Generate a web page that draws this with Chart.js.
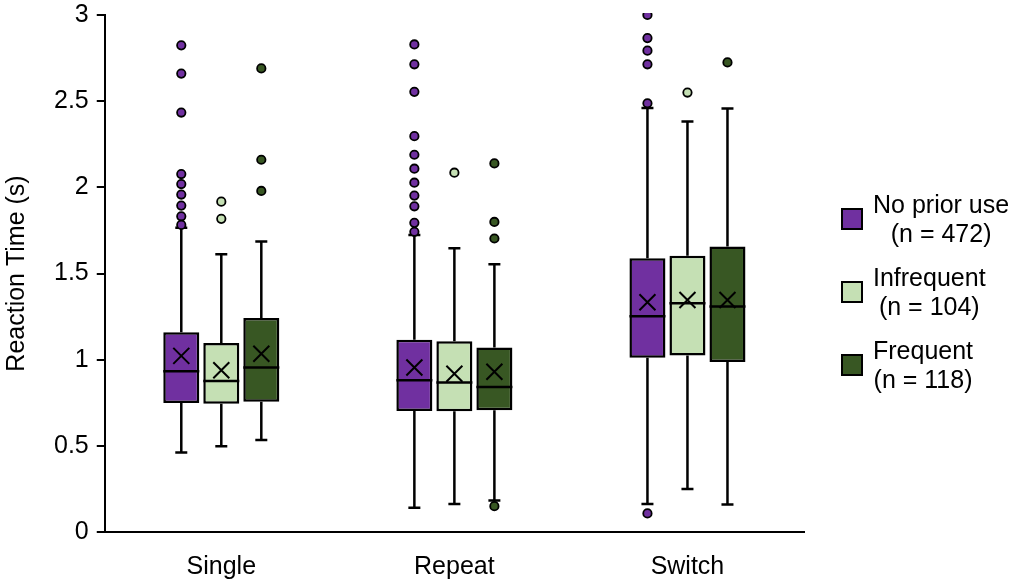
<!DOCTYPE html>
<html>
<head>
<meta charset="utf-8">
<script src="https://cdn.jsdelivr.net/npm/chart.js@4.4.1/dist/chart.umd.min.js"></script>
<style>
  body { margin: 0; background: #fff; font-family: 'Liberation Sans', Arial, sans-serif; }
  #wrap { position: relative; width: 1022px; height: 588px; }
  #legend { position: absolute; left: 841px; top: 190px; }
  .item { display: flex; align-items: center; margin-bottom: 15px; }
  .swatch { width: 18px; height: 18px; border: 2px solid #000; margin-right: 10px; }
  .label { font-size: 25px; line-height: 29px; text-align: center; color: #000; }
</style>
</head>
<body>
<div id="wrap">
  <canvas id="rtChart" width="1022" height="588"></canvas>
  <div id="legend"></div>
</div>
<script>
// groups on the x axis and the three user groups
const groups = ['Single', 'Repeat', 'Switch'];
const seriesNames = ['No prior use', 'Infrequent', 'Frequent'];
const seriesN = [472, 104, 118];
const colors = ['#7030a0', '#c5e0b4', '#385723'];

// box stats, one row per series, one value per group (seconds)
const q1 = [
  [0.748, 0.702, 1.011],
  [0.744, 0.700, 1.024],
  [0.756, 0.706, 0.986]
];
const median = [
  [0.933, 0.881, 1.252],
  [0.876, 0.868, 1.327],
  [0.955, 0.841, 1.308]
];
const q3 = [
  [1.159, 1.115, 1.589],
  [1.097, 1.107, 1.603],
  [1.242, 1.070, 1.657]
];
const mean = [
  [1.022, 0.955, 1.333],
  [0.939, 0.918, 1.346],
  [1.034, 0.930, 1.346]
];
const whiskerLow = [
  [0.461, 0.141, 0.162],
  [0.498, 0.162, 0.249],
  [0.534, 0.183, 0.160]
];
const whiskerHigh = [
  [1.765, 1.724, 2.461],
  [1.612, 1.647, 2.382],
  [1.686, 1.553, 2.457]
];
const outliers = [
  [
    [2.824, 2.66, 2.434, 2.077, 2.019, 1.958, 1.894, 1.832, 1.782],
    [2.829, 2.714, 2.554, 2.297, 2.189, 2.108, 2.027, 1.952, 1.89, 1.794, 1.742],
    [3.0, 2.866, 2.793, 2.714, 2.488, 0.108]
  ],
  [
    [1.917, 1.817],
    [2.085],
    [2.55]
  ],
  [
    [2.69, 2.16, 1.979],
    [2.139, 1.799, 1.703, 0.15],
    [2.725]
  ]
];

const yTicks = [0, 0.5, 1, 1.5, 2, 2.5, 3];

// whiskers, medians, means and outliers drawn from the bar elements + y scale
const boxExtras = {
  id: 'boxExtras',
  beforeDatasetsDraw(chart) {
    const ctx = chart.ctx;
    const y = chart.scales.y;
    ctx.save();
    ctx.strokeStyle = '#000';
    ctx.lineWidth = 2.5;
    chart.data.datasets.forEach((ds, i) => {
      chart.getDatasetMeta(i).data.forEach((bar, j) => {
        const x = bar.x;
        const lo = y.getPixelForValue(whiskerLow[i][j]);
        const hi = y.getPixelForValue(whiskerHigh[i][j]);
        const b = y.getPixelForValue(q1[i][j]);
        const t = y.getPixelForValue(q3[i][j]);
        ctx.beginPath();
        ctx.moveTo(x, t); ctx.lineTo(x, hi);
        ctx.moveTo(x - 6, hi); ctx.lineTo(x + 6, hi);
        ctx.moveTo(x, b); ctx.lineTo(x, lo);
        ctx.moveTo(x - 6, lo); ctx.lineTo(x + 6, lo);
        ctx.stroke();
      });
    });
    ctx.restore();
  },
  afterDatasetsDraw(chart) {
    const ctx = chart.ctx;
    const y = chart.scales.y;
    const area = chart.chartArea;
    ctx.save();
    ctx.beginPath();
    ctx.rect(area.left, area.top - 2, area.right - area.left, area.bottom - area.top + 10);
    ctx.clip();
    ctx.strokeStyle = '#000';
    chart.data.datasets.forEach((ds, i) => {
      chart.getDatasetMeta(i).data.forEach((bar, j) => {
        const x = bar.x;
        const half = bar.width / 2;
        ctx.lineWidth = 2.5;
        const m = y.getPixelForValue(median[i][j]);
        ctx.beginPath();
        ctx.moveTo(x - half, m); ctx.lineTo(x + half, m);
        ctx.stroke();

        ctx.lineWidth = 2;
        const my = y.getPixelForValue(mean[i][j]);
        ctx.beginPath();
        ctx.moveTo(x - 8, my - 8); ctx.lineTo(x + 8, my + 8);
        ctx.moveTo(x + 8, my - 8); ctx.lineTo(x - 8, my + 8);
        ctx.stroke();

        ctx.lineWidth = 1.8;
        outliers[i][j].forEach(v => {
          ctx.beginPath();
          ctx.arc(x, y.getPixelForValue(v), 4.2, 0, Math.PI * 2);
          ctx.fillStyle = colors[i];
          ctx.fill();
          ctx.stroke();
        });
      });
    });
    ctx.restore();
  }
};

const ctx = document.getElementById('rtChart').getContext('2d');
new Chart(ctx, {
  type: 'bar',
  data: {
    labels: groups,
    datasets: seriesNames.map((name, i) => ({
      label: name + ' (n = ' + seriesN[i] + ')',
      data: groups.map((g, j) => [q1[i][j], q3[i][j]]),
      backgroundColor: colors[i],
      borderColor: '#000',
      borderWidth: 2.5,
      borderSkipped: false
    }))
  },
  options: {
    responsive: false,
    animation: false,
    layout: { padding: { left: 0, right: 218, top: 15, bottom: 0 } },
    datasets: { bar: { categoryPercentage: 0.515, barPercentage: 0.9 } },
    plugins: {
      legend: { display: false },
      tooltip: { enabled: false }
    },
    scales: {
      x: {
        afterFit(scale) { scale.height = 56; },
        grid: { display: false, drawTicks: false },
        border: { display: true, color: '#000', width: 2 },
        ticks: { color: '#000', padding: 20, font: { family: "'Liberation Sans', Arial", size: 25 } }
      },
      y: {
        min: 0,
        max: 3,
        afterBuildTicks(scale) { scale.ticks = yTicks.map(v => ({ value: v })); },
        afterFit(scale) { scale.paddingTop = 0; scale.paddingBottom = 0; },
        grid: { drawOnChartArea: false, tickLength: 8, color: '#000', lineWidth: 2 },
        border: { display: true, color: '#000', width: 2 },
        ticks: {
          color: '#000',
          padding: 8,
          callback: v => String(v),
          font: { family: "'Liberation Sans', Arial", size: 25 }
        },
        title: {
          display: true,
          text: 'Reaction Time (s)',
          color: '#000',
          padding: { top: 2, bottom: 14 },
          font: { family: "'Liberation Sans', Arial", size: 25 }
        }
      }
    }
  },
  plugins: [boxExtras]
});

// legend with two centred lines per entry
const legend = document.getElementById('legend');
seriesNames.forEach((name, i) => {
  const item = document.createElement('div');
  item.className = 'item';
  item.innerHTML = `
    <div class="swatch" style="background:${colors[i]}"></div>
    <div class="label">${name}<br>(n = ${seriesN[i]})</div>
  `;
  legend.appendChild(item);
});
</script>
</body>
</html>
